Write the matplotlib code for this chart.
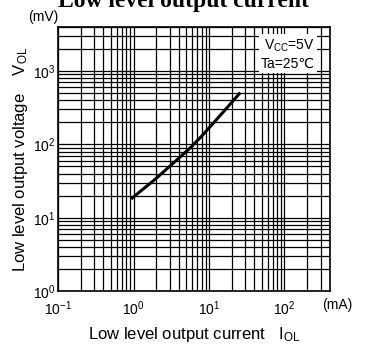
import matplotlib
matplotlib.use("Agg")
import matplotlib.pyplot as plt
import numpy as np

plt.rcParams['font.family'] = ['Liberation Sans', 'DejaVu Sans']
plt.rcParams['mathtext.fontset'] = 'custom'
plt.rcParams['mathtext.rm'] = 'Liberation Sans'

# IOL (mA) vs VOL (mV)
i_ol = [0.93, 1.3, 1.84, 3.0, 5.66, 8.0, 11.4, 17.0, 26.0]
v_ol = [18, 24, 32, 50, 90, 130, 195, 310, 510]

x_ticks = [0.1, 1, 10, 100]
x_labels = ['$10^{-1}$', '$10^{0}$', '$10^{1}$', '$10^{2}$']
y_ticks = [1, 10, 100, 1000]
y_labels = ['$10^{0}$', '$10^{1}$', '$10^{2}$', '$10^{3}$']

fig = plt.figure(figsize=(3.66, 3.44), dpi=100)
ax = fig.add_axes([0.1585, 0.154, 0.743, 0.7675])

ax.set_xscale('log')
ax.set_yscale('log')
ax.set_xlim(0.1, 400)
ax.set_ylim(1, 4000)

ax.grid(True, which='both', color='black', linewidth=0.9)
ax.set_axisbelow(True)
ax.plot(i_ol, v_ol, color='black', linewidth=2.2, solid_capstyle='butt')

ax.set_xticks(x_ticks)
ax.set_xticklabels(x_labels, fontsize=10)
ax.set_yticks(y_ticks)
ax.set_yticklabels(y_labels, fontsize=10)
ax.tick_params(axis='x', which='both', length=0, pad=6)
ax.tick_params(axis='y', which='both', length=0, pad=2)
for s in ax.spines.values():
    s.set_linewidth(1.2)

ax.set_xlabel(r'Low level output current   $\mathregular{I_{OL}}$', fontsize=12, labelpad=5)
ax.set_ylabel(r'Low level output voltage    $\mathregular{V_{OL}}$', fontsize=12, labelpad=2)

fig.text(0.078, 0.95, '(mV)', fontsize=10, ha='left', va='center')
fig.text(0.88, 0.112, '(mA)', fontsize=10, ha='left', va='center')

ax.text(0.945, 0.96, 'V$_{\\mathregular{CC}}$=5V\nTa=25℃', transform=ax.transAxes,
        fontsize=10, ha='right', va='top', linespacing=1.3,
        bbox=dict(facecolor='white', edgecolor='none', pad=1.5))

# title is cropped at the top edge in the original
fig.text(0.5, 1 - 7 / 344, 'Low level output current', fontsize=17, fontweight='bold',
         family='Liberation Serif', ha='center', va='baseline')

fig.savefig('out.png', dpi=100)
